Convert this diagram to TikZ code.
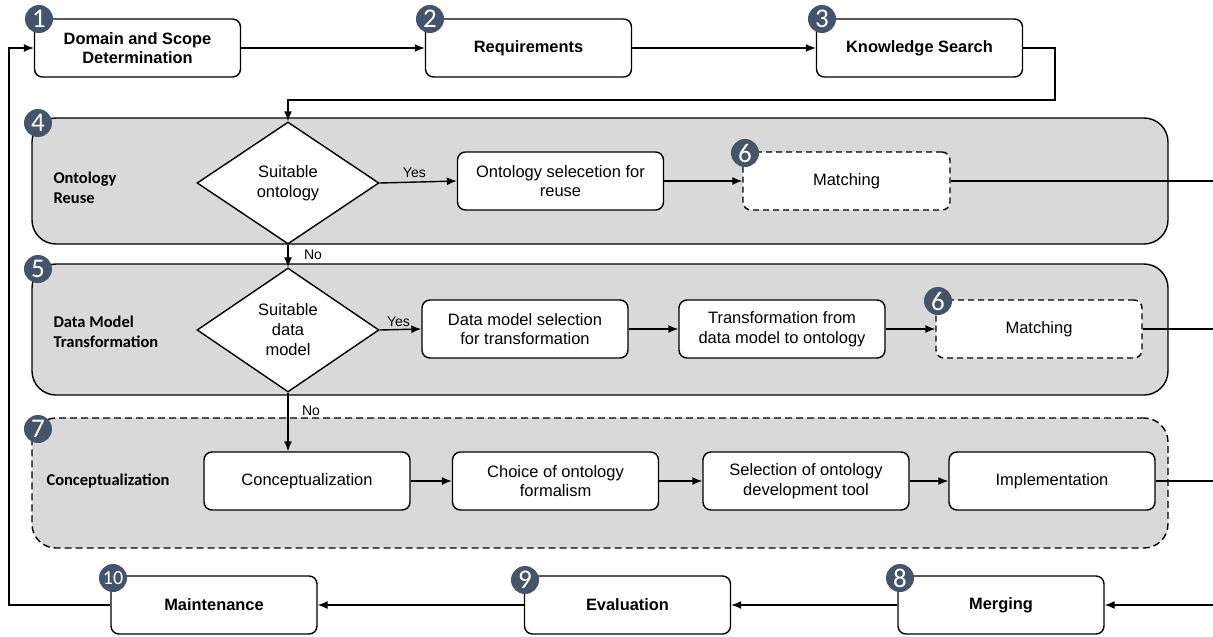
\documentclass[tikz,border=0pt]{standalone}
\usepackage{fontspec}
\setmainfont{Liberation Sans}
\newfontfamily\calibrifont{Carlito}
\usetikzlibrary{arrows.meta,shapes.geometric}
\definecolor{badgeblue}{HTML}{44546A}
\definecolor{groupgray}{HTML}{D9D9D9}
\tikzset{
  box/.style={draw, line width=1.4pt, rounded corners=8pt, fill=white, minimum width=206pt, minimum height=58pt, align=center, inner sep=2pt, font=\fontsize{16.5}{19.5}\selectfont},
  titlebox/.style={box, font=\fontsize{16.4}{19.5}\selectfont\bfseries},
  dashbox/.style={box, dash pattern=on 6pt off 4pt},
  group/.style={draw, line width=1.4pt, rounded corners=24pt, fill=groupgray, minimum width=1136pt},
  dashgroup/.style={group, dash pattern=on 7pt off 4pt},
  decision/.style={draw, diamond, line width=1.4pt, fill=white, minimum width=182pt, inner sep=0pt, align=center, font=\fontsize{16.5}{20}\selectfont},
  badge/.style={circle, fill=badgeblue, minimum size=28pt, inner sep=0pt, text=white, font=\calibrifont\fontsize{27}{27}\selectfont},
  grouplabel/.style={anchor=west, align=left, font=\calibrifont\bfseries\fontsize{16.5}{19.5}\selectfont},
  yn/.style={font=\fontsize{14}{16}\selectfont},
  arr/.style={line width=1.4pt, -{Latex[length=10pt,width=8pt]}},
  line/.style={line width=1.4pt}
}
\begin{document}
\begin{tikzpicture}[x=1pt,y=-1pt]
\useasboundingbox (0,0) rectangle (1213,637);
% groups
\node[group, minimum height=126pt] (g4) at (600,181) {};
\node[group, minimum height=131pt] (g5) at (600,329.5) {};
\node[dashgroup, minimum height=130pt] (g7) at (600,483) {};
% group labels
\node[grouplabel] (l4) at (50,188) {Ontology\\Reuse};
\node[grouplabel] (l5) at (50,332) {Data Model\\Transformation};
\node[grouplabel] (l7) at (43,481) {Conceptualization};
% top row
\node[titlebox] (b1) at (137.5,48) {Domain and Scope\\Determination};
\node[titlebox] (b2) at (528.5,48) {Requirements};
\node[titlebox] (b3) at (919.5,48) {Knowledge Search};
% decisions
\node[decision, minimum height=122pt] (d1) at (288,183) {Suitable\\ontology};
\node[decision, minimum height=124pt] (d2) at (288,330) {Suitable\\data\\model};
% ontology reuse row
\node[box] (os) at (560.5,181) {Ontology selecetion for\\reuse};
\node[dashbox, minimum width=207pt] (m1) at (846.5,181) {Matching};
% data model row
\node[box] (dm) at (525,329) {Data model selection\\for transformation};
\node[box] (tr) at (782,329) {Transformation from\\data model to ontology};
\node[dashbox] (m2) at (1039,329) {Matching};
% conceptualization row
\node[box] (cc) at (307,481) {Conceptualization};
\node[box] (ch) at (555.5,481) {Choice of ontology\\formalism};
\node[box] (se) at (806,481) {Selection of ontology\\development tool};
\node[box] (im) at (1052,481) {Implementation};
% bottom row
\node[titlebox] (mt) at (214,605) {Maintenance};
\node[titlebox] (ev) at (627.5,605) {Evaluation};
\node[titlebox] (mg) at (1001,605) {Merging};
% edge coordinates
\coordinate (e1) at (1213,181);
\coordinate (e2) at (1213,329);
\coordinate (e3) at (1213,481);
\coordinate (e4) at (1213,605);
\coordinate (k1) at (1055,100);
\coordinate (k2) at (9,605);
% connectors
\draw[arr] (b1) -- (b2);
\draw[arr] (b2) -- (b3);
\draw[arr] (b3.east) -| (k1) -| (d1.north);
\draw[arr] (d1.east) -- node[yn, above, pos=0.45] (y1) {Yes} (os.west);
\draw[arr] (os.east) -- (m1.west);
\draw[line] (m1.east) -- (e1);
\draw[arr] (d1.south) -- node[yn, right, pos=0.45, xshift=12pt] (n1) {No} (d2.north);
\draw[arr] (d2.east) -- node[yn, above, pos=0.45, yshift=-1pt] (y2) {Yes} (dm.west);
\draw[arr] (dm) -- (tr);
\draw[arr] (tr) -- (m2);
\draw[line] (m2.east) -- (e2);
\draw[arr] (d2.south) -- node[yn, right, pos=0.3, xshift=10pt] (n2) {No} (d2.south |- cc.north);
\draw[arr] (cc) -- (ch);
\draw[arr] (ch) -- (se);
\draw[arr] (se) -- (im);
\draw[line] (im.east) -- (e3);
\draw[arr] (e4) -- (mg.east);
\draw[arr] (mg) -- (ev);
\draw[arr] (ev) -- (mt);
\draw[arr] (mt.west) -- (k2) |- (b1.west);
% badges
\node[badge] (c1) at (39,19) {1};
\node[badge] (c2) at (430,19) {2};
\node[badge] (c3) at (822,19) {3};
\node[badge] (c4) at (38,123) {4};
\node[badge] (c5) at (38,269) {5};
\node[badge] (c6a) at (745,153) {6};
\node[badge] (c6b) at (938,301) {6};
\node[badge] (c7) at (38,429) {7};
\node[badge] (c8) at (900,578) {8};
\node[badge] (c9) at (525,580) {9};
\node[badge, font=\calibrifont\fontsize{20}{20}\selectfont] (c10) at (113,578) {10};
\end{tikzpicture}
\end{document}
